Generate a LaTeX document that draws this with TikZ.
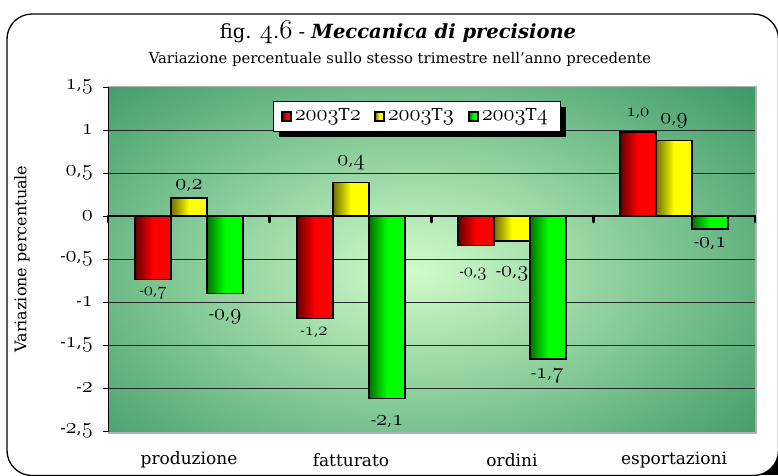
\documentclass[tikz,border=0pt]{standalone}
\usepackage{fontspec}
\setmainfont{DejaVu Serif}
\usetikzlibrary{positioning}
\usetikzlibrary{shadows}
\usetikzlibrary{calc}

\definecolor{bgdark}{RGB}{56,150,100}
\definecolor{bglight}{RGB}{208,252,202}
\definecolor{gialloscuro}{RGB}{110,110,0}

\providecommand\legacyoldstylenums{\oldstylenums}
\newcommand\os[1]{\scalebox{1.3}{\legacyoldstylenums{#1}}}

\tikzset{
  serA/.style={draw=black, line width=1.6pt, left color=red!40!black, right color=red, middle color=red},
  serB/.style={draw=black, line width=1.6pt, left color=gialloscuro, right color=yellow, middle color=yellow},
  serC/.style={draw=black, line width=1.6pt, left color=green!45!black, right color=green, middle color=green},
  gridline/.style={black!85, line width=0.8pt},
  vlab/.style={inner sep=0pt, font=\fontsize{16}{16}\selectfont},
  vlabsmall/.style={inner sep=0pt, font=\fontsize{13.5}{14}\selectfont},
  ytick/.style={anchor=east, inner sep=0pt, font=\fontsize{16}{16}\selectfont},
  catlab/.style={inner sep=0pt, font=\fontsize{17}{17}\selectfont},
  legkey/.style={minimum size=9pt, inner sep=0pt, line width=1.1pt},
  legtext/.style={anchor=west, inner sep=0pt, font=\fontsize{16.5}{17}\selectfont}
}

\begin{document}
\begin{tikzpicture}[x=1pt,y=-1pt]
\useasboundingbox (0,0) rectangle (778,475);

\def\yz{216}
\def\yu{86}

% cornice
\fill[black] (745,440) rectangle (778,475);
\draw[line width=1.3pt, fill=white, rounded corners=25pt] (7,14) rectangle (778.5,475.5);

% titoli
\node[inner sep=0pt, font=\fontsize{19.5}{20}\selectfont] (titolo) at (398,32)
  {fig. \os{4}.\os{6} - \textbf{\textit{Meccanica di precisione}}};
\node[inner sep=0pt, font=\fontsize{14.8}{15}\selectfont] (sottotitolo) at (400,59)
  {Variazione percentuale sullo stesso trimestre nell'anno precedente};

% area del grafico
\begin{scope}
\clip (108,87) rectangle (755,432);
\fill[bgdark] (108,87) rectangle (755,432);
\shade[inner color=bglight, outer color=bgdark] (415,270) ellipse [x radius=470, y radius=280];
\end{scope}
\draw[gray!60, line width=1.6pt] (108,86.5) -- (756,86.5) -- (756,433) -- (108,433);

\foreach \v in {1,0.5,-0.5,-1,-1.5,-2}
  \draw[gridline] (108,{\yz-\yu*\v}) -- (755,{\yz-\yu*\v});

% asse y
\draw[line width=1pt] (108,87) -- (108,432);
\foreach \v/\t [count=\i] in {1.5/{\os{1},\os{5}}, 1/{\os{1}}, 0.5/{\os{0},\os{5}}, 0/{\os{0}},
    -0.5/{-\os{0},\os{5}}, -1/{-\os{1}}, -1.5/{-\os{1},\os{5}}, -2/{-\os{2}}, -2.5/{-\os{2},\os{5}}}
{
  \draw[line width=1pt] (103,{\yz-\yu*\v}) -- (108,{\yz-\yu*\v});
  \node[ytick] (yl\i) at (93,{\yz-\yu*\v}) {\t};
}
\node[rotate=90, inner sep=0pt, font=\fontsize{16}{16}\selectfont] (ylabel) at (22,259) {Variazione percentuale};

% barre
\draw[serA] (135,\yz) rectangle (171,{\yz-\yu*(-0.74)});
\draw[serB] (171,\yz) rectangle (207,{\yz-\yu*0.21});
\draw[serC] (207,\yz) rectangle (243,{\yz-\yu*(-0.90)});

\draw[serA] (297,\yz) rectangle (333,{\yz-\yu*(-1.19)});
\draw[serB] (333,\yz) rectangle (369,{\yz-\yu*0.39});
\draw[serC] (369,\yz) rectangle (405,{\yz-\yu*(-2.12)});

\draw[serA] (458,\yz) rectangle (494,{\yz-\yu*(-0.345)});
\draw[serB] (494,\yz) rectangle (530,{\yz-\yu*(-0.29)});
\draw[serC] (530,\yz) rectangle (566,{\yz-\yu*(-1.66)});

\draw[serA] (620,\yz) rectangle (656,{\yz-\yu*0.98});
\draw[serB] (656,\yz) rectangle (692,{\yz-\yu*0.88});
\draw[serC] (692,\yz) rectangle (728,{\yz-\yu*(-0.15)});

% asse zero
\draw[line width=2.6pt] (108,\yz) -- (755,\yz);
\foreach \x in {108,269.75,431.5,593.25,755}
  \draw[line width=2.6pt, line cap=round] (\x,\yz) -- (\x,222);

% etichette dei valori
\node[vlabsmall] (pA) at (153,293) {-\os{0},\os{7}};
\node[vlab] (pB) at (189,186) {\os{0},\os{2}};
\node[vlab] (pC) at (225,317) {-\os{0},\os{9}};
\node[vlabsmall] (fA) at (314,332) {-\os{1},\os{2}};
\node[vlab] (fB) at (351,163) {\os{0},\os{4}};
\node[vlab] (fC) at (387,422) {-\os{2},\os{1}};
\node[vlabsmall] (oA) at (473,274) {-\os{0},\os{3}};
\node[vlab] (oB) at (512,274) {-\os{0},\os{3}};
\node[vlab] (oC) at (547,376) {-\os{1},\os{7}};
\node[vlabsmall] (eA) at (638,113) {\os{1},\os{0}};
\node[vlab] (eB) at (674,121) {\os{0},\os{9}};
\node[vlab] (eC) at (710,244) {-\os{0},\os{1}};

% categorie
\node[catlab] (cat1) at (189,460) {produzione};
\node[catlab] (cat2) at (351,460) {fatturato};
\node[catlab] (cat3) at (512,460) {ordini};
\node[catlab] (cat4) at (674,460) {esportazioni};

% legenda
\node[draw=black, line width=1pt, fill=white, minimum width=287pt, minimum height=30pt,
  drop shadow={shadow xshift=6pt, shadow yshift=-6pt, fill=black, opacity=1}] (legenda) at (416.5,116) {};
\node[legkey, serA, line width=1.1pt] (kA) at (286.5,116.5) {};
\node[legtext, right=3pt of kA] (tA) {\os{2003}T\os{2}};
\node[legkey, serB, line width=1.1pt] (kB) at (379.5,116.5) {};
\node[legtext, right=3pt of kB] (tB) {\os{2003}T\os{3}};
\node[legkey, serC, line width=1.1pt] (kC) at (473.5,116.5) {};
\node[legtext, right=3pt of kC] (tC) {\os{2003}T\os{4}};

\end{tikzpicture}
\end{document}
